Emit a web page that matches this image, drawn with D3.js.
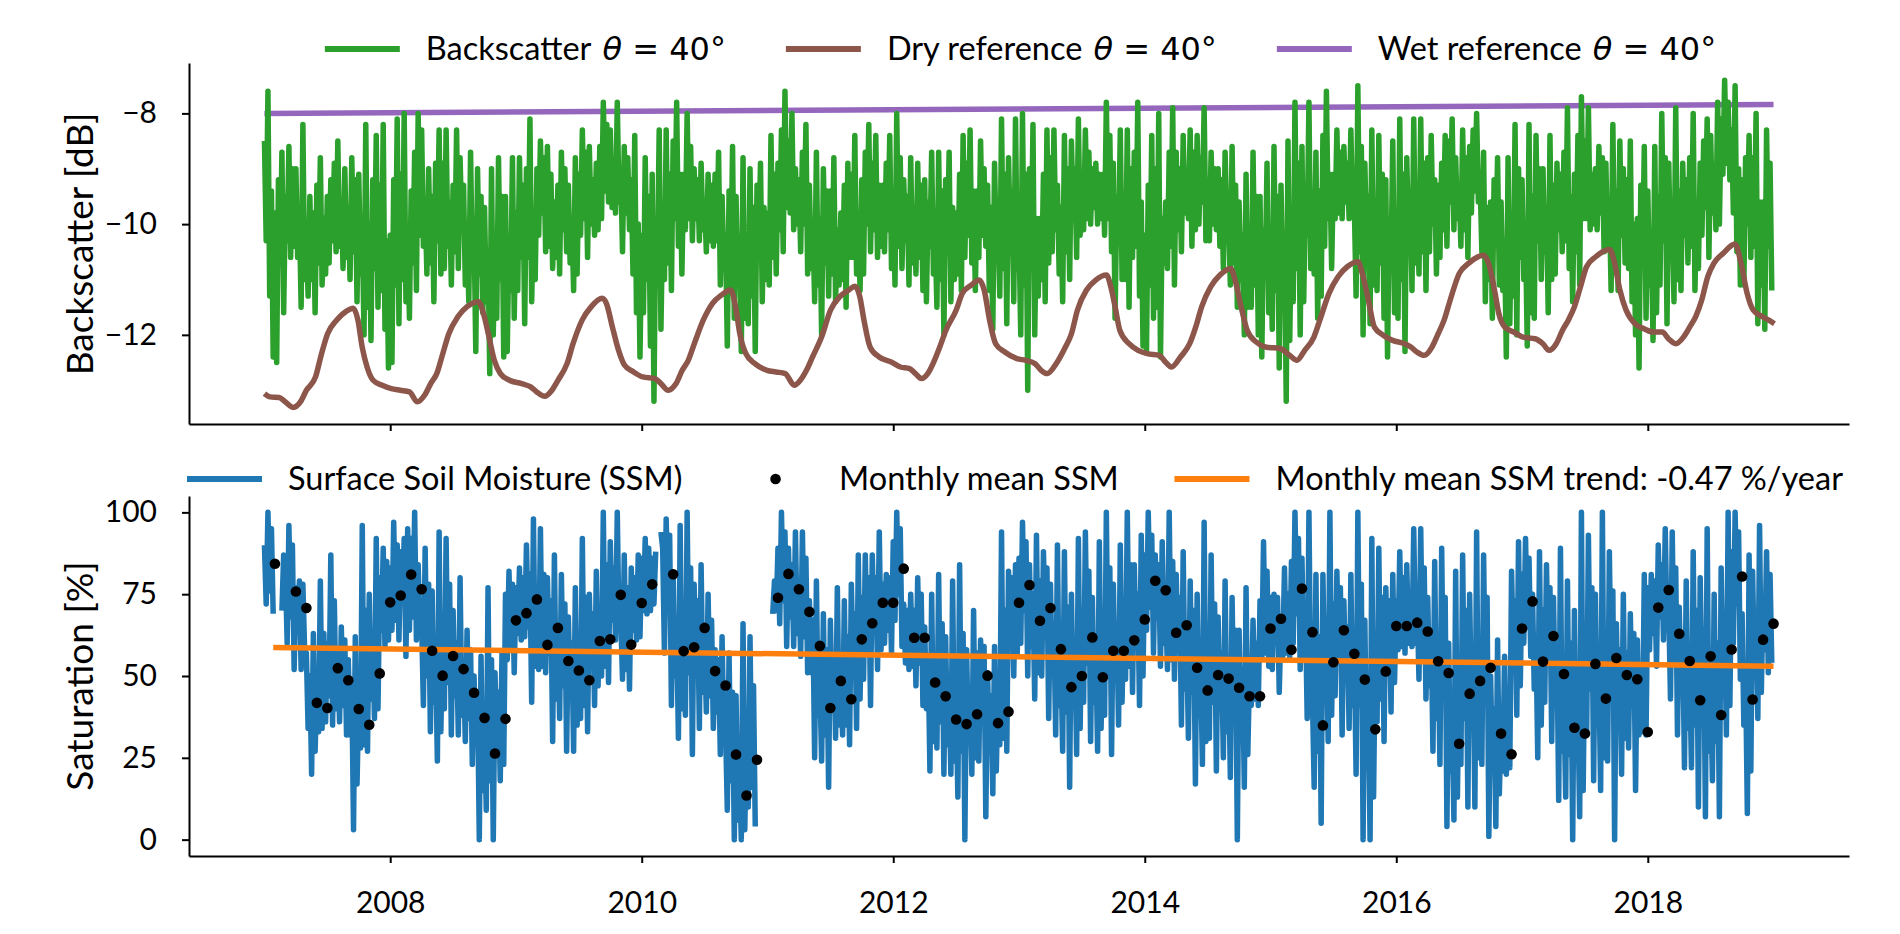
<!DOCTYPE html>
<html lang="en">
<head>
  <meta charset="UTF-8">
  <title>Backscatter and Surface Soil Moisture</title>
  <script src="https://d3js.org/d3.v7.min.js"></script>
  <style>
    body { margin: 0; background: #fff; }
    svg text { fill: #000; }
    .axis text { font-family: Lato, sans-serif; font-size: 30px; }
    .legend text { font-family: Lato, sans-serif; font-size: 32.5px; }
    .legend .math { font-family: "DejaVu Sans", sans-serif; font-size: 32px; }
    .ylabel { font-family: Lato, sans-serif; font-size: 37px; }
  </style>
</head>
<body>
  <svg id="chart" width="1900" height="934"></svg>

  <script>
    // ticks
    const yearTicks = [2008, 2010, 2012, 2014, 2016, 2018];
    const backscatterTicks = [-12, -10, -8];
    const saturationTicks = [0, 25, 50, 75, 100];

    // backscatter at 40 deg [dB], 6 samples per month, Jan 2007 - Dec 2018
    const backscatter = [
      -8.5,-10.3,-7.6,-11.3,-9.4,-12.4, -9.8,-12.5,-9.2,-10.7,-8.7,-11.6, -9.5,-10.3,-8.6,-10.6,-9.0,-10.4, -9.0,-10.6,-9.8,-11.5,-8.2,-11.0, -10.2,-11.3,-9.5,-11.0,-9.8,-11.6, -9.3,-10.7,-8.8,-11.1,-9.9,-10.9, -9.5,-10.7,-9.2,-10.3,-8.9,-10.5, -8.5,-10.4,-9.6,-10.8,-9.0,-10.6, -9.7,-11.0,-8.8,-10.5,-9.2,-11.4, -9.1,-10.9,-10.0,-12.0,-8.2,-11.5, -10.0,-12.1,-9.2,-10.8,-8.4,-11.5, -9.3,-11.2,-8.2,-11.9,-10.3,-12.6,
      -10.2,-12.5,-9.2,-11.1,-8.1,-11.8, -9.1,-11.0,-8.0,-11.4,-10.1,-11.7, -9.4,-10.7,-8.7,-11.2,-8.0,-10.2, -8.3,-10.4,-9.6,-10.9,-9.0,-10.7, -9.5,-11.4,-8.9,-10.3,-8.3,-10.9, -8.9,-10.8,-8.3,-10.4,-9.6,-11.1, -9.3,-10.5,-8.3,-10.8,-8.8,-10.1, -9.3,-11.1,-10.0,-11.4,-8.7,-10.8, -10.1,-12.3,-9.0,-10.9,-9.5,-11.6, -9.7,-11.4,-10.5,-12.7,-9.0,-12.0, -10.2,-11.7,-8.8,-11.0,-9.5,-12.4, -9.5,-12.3,-10.3,-11.2,-8.8,-11.7,
      -9.8,-11.2,-8.8,-10.6,-9.3,-11.8, -9.0,-10.6,-8.1,-11.4,-9.8,-11.0, -9.0,-10.2,-8.5,-9.8,-8.8,-10.5, -8.6,-10.4,-9.1,-10.8,-9.6,-10.6, -9.3,-10.9,-8.7,-10.1,-9.0,-10.5, -9.3,-10.7,-9.9,-11.2,-8.8,-10.9, -9.1,-10.2,-8.3,-9.9,-8.7,-10.6, -8.6,-10.0,-9.2,-10.2,-8.9,-10.1, -8.6,-9.9,-7.8,-9.4,-8.2,-9.6, -8.3,-9.7,-8.9,-9.8,-7.8,-9.6, -9.0,-10.5,-8.6,-9.8,-8.8,-10.1, -9.2,-10.9,-8.4,-11.6,-10.0,-12.4,
      -10.2,-11.6,-8.8,-11.0,-9.5,-12.2, -9.1,-13.2,-9.9,-10.7,-8.3,-11.9, -9.9,-11.0,-8.3,-10.7,-9.1,-11.2, -8.5,-9.9,-7.8,-10.4,-9.1,-10.9, -9.1,-10.1,-8.0,-9.9,-8.6,-10.3, -9.0,-9.9,-9.2,-10.3,-8.9,-10.1, -9.6,-10.5,-9.1,-10.3,-9.3,-10.4, -9.1,-10.3,-8.7,-11.1,-9.5,-10.7, -10.2,-12.2,-9.4,-11.1,-8.6,-11.7, -9.5,-11.1,-10.3,-12.3,-8.8,-11.7, -10.4,-11.8,-9.0,-11.3,-9.7,-12.3, -9.3,-10.5,-8.9,-11.4,-9.7,-11.0,
      -9.8,-11.1,-8.4,-10.6,-9.1,-10.9, -8.9,-10.1,-8.3,-10.5,-7.6,-9.7, -8.5,-9.8,-8.0,-10.1,-9.0,-10.0, -9.2,-10.5,-8.7,-10.0,-8.2,-10.9, -9.3,-10.8,-10.0,-11.4,-8.7,-11.1, -9.9,-12.0,-9.0,-10.7,-9.4,-11.3, -9.4,-10.9,-8.8,-11.4,-10.1,-11.1, -9.8,-11.0,-9.3,-11.5,-8.9,-10.6, -9.1,-10.6,-8.4,-10.9,-9.8,-11.2, -9.2,-10.9,-8.7,-10.0,-8.2,-10.5, -8.9,-10.1,-8.4,-10.6,-9.3,-10.4, -9.3,-10.5,-8.9,-10.1,-8.4,-10.8,
      -9.6,-11.1,-8.0,-10.4,-8.8,-10.8, -9.2,-10.3,-9.5,-11.1,-8.8,-10.7, -9.8,-10.9,-8.9,-10.6,-9.3,-11.2, -9.2,-11.4,-9.6,-10.4,-8.7,-10.9, -10.2,-11.5,-8.7,-11.0,-9.4,-12.0, -9.2,-10.5,-8.7,-11.4,-9.7,-11.0, -9.8,-10.9,-9.1,-11.2,-8.4,-10.6, -8.9,-10.2,-8.3,-10.7,-9.4,-11.2, -9.4,-10.6,-8.5,-10.2,-9.0,-10.4, -9.3,-11.2,-9.7,-11.9,-8.9,-10.5, -10.0,-11.3,-8.1,-10.8,-9.1,-11.8, -8.8,-10.2,-9.4,-11.4,-8.1,-10.8,
      -10.2,-12.0,-8.0,-11.1,-9.1,-13.0, -9.0,-10.7,-8.2,-12.0,-9.9,-11.3, -9.9,-11.0,-9.1,-11.4,-8.3,-10.7, -8.8,-10.5,-8.3,-10.1,-9.3,-10.9, -9.7,-11.4,-8.4,-10.5,-9.0,-11.0, -8.5,-9.8,-9.0,-10.6,-8.1,-10.2, -9.1,-10.1,-8.3,-9.9,-8.7,-10.0, -9.0,-9.7,-8.9,-10.0,-9.1,-9.9, -9.1,-10.2,-7.8,-9.9,-8.4,-10.5, -8.9,-11.7,-9.5,-10.3,-8.3,-11.0, -9.8,-11.0,-8.3,-11.5,-9.0,-10.6, -8.7,-10.4,-7.8,-11.3,-9.6,-12.2,
      -10.2,-12.3,-9.3,-11.1,-8.4,-11.7, -9.0,-11.5,-8.0,-12.4,-9.9,-10.7, -9.6,-10.8,-8.7,-10.4,-7.9,-11.1, -8.7,-10.1,-9.0,-10.5,-8.4,-9.8, -9.1,-9.9,-8.3,-10.4,-8.7,-10.1, -8.4,-10.0,-8.8,-9.6,-7.9,-10.3, -9.2,-10.3,-8.7,-10.0,-9.0,-10.1, -9.0,-10.4,-9.2,-10.8,-8.7,-10.0, -9.9,-11.1,-8.6,-10.7,-9.3,-11.5, -9.6,-11.0,-10.2,-12.0,-9.1,-11.5, -10.2,-11.5,-8.7,-11.1,-9.5,-12.0, -9.5,-12.4,-10.1,-10.9,-8.9,-11.6,
      -10.3,-11.9,-8.6,-11.2,-9.5,-12.6, -9.3,-11.0,-10.2,-13.2,-8.5,-12.1, -10.0,-11.4,-7.8,-10.8,-8.9,-12.0, -8.6,-11.4,-9.4,-10.2,-7.8,-10.8, -10.1,-10.9,-8.7,-11.7,-9.4,-11.3, -8.4,-10.4,-7.6,-9.9,-9.1,-10.8, -9.1,-9.9,-8.3,-9.8,-8.7,-9.9, -8.6,-9.6,-8.9,-9.9,-8.3,-9.8, -9.7,-11.3,-7.5,-10.5,-8.6,-12.0, -8.9,-10.3,-9.5,-11.8,-8.3,-11.1, -9.9,-11.2,-8.4,-10.7,-9.1,-11.7, -9.2,-12.4,-9.9,-10.7,-8.5,-11.6,
      -10.2,-11.7,-8.1,-11.0,-9.1,-12.3, -8.8,-10.2,-9.4,-11.2,-8.1,-10.7, -9.7,-10.9,-8.1,-10.5,-8.9,-11.2, -8.8,-10.5,-8.4,-10.0,-9.2,-10.9, -9.3,-10.6,-8.9,-10.1,-8.4,-10.4, -8.5,-9.6,-8.1,-10.1,-8.8,-9.9, -9.3,-10.4,-8.3,-10.1,-8.8,-10.6, -8.6,-9.8,-8.3,-9.4,-8.0,-9.6, -9.2,-10.5,-8.7,-11.4,-9.7,-11.0, -9.6,-11.7,-9.2,-10.4,-8.8,-11.1, -9.6,-11.2,-10.3,-12.4,-8.8,-11.8, -9.8,-11.3,-8.2,-12.0,-9.0,-10.6,
      -9.2,-11.0,-10.2,-12.2,-8.2,-11.6, -9.5,-11.7,-8.4,-10.3,-9.0,-11.0, -9.0,-10.5,-9.7,-11.6,-8.4,-11.0, -9.3,-10.9,-8.9,-10.1,-9.1,-10.5, -8.7,-10.3,-7.9,-10.8,-9.5,-11.4, -9.1,-10.5,-8.4,-11.1,-7.7,-9.9, -8.5,-9.9,-7.9,-10.1,-9.1,-10.0, -9.0,-10.1,-8.6,-9.8,-8.8,-10.5, -8.9,-10.4,-9.6,-11.2,-8.2,-10.8, -9.4,-11.2,-8.5,-10.2,-9.0,-10.7, -9.2,-10.8,-8.5,-11.4,-10.0,-12.0, -9.9,-12.6,-9.3,-10.7,-8.6,-11.7,
      -9.4,-11.1,-10.2,-12.1,-8.6,-11.6, -9.5,-11.1,-8.0,-10.3,-8.8,-11.8, -8.9,-10.6,-9.8,-11.4,-7.9,-11.0, -9.4,-11.2,-8.9,-10.2,-9.2,-10.7, -8.8,-10.4,-8.0,-11.2,-9.6,-10.8, -8.9,-10.2,-8.5,-9.7,-8.1,-10.6, -8.4,-9.8,-9.0,-10.1,-7.8,-10.0, -8.1,-9.1,-7.4,-8.9,-7.8,-9.2, -8.3,-9.8,-7.5,-10.5,-9.0,-11.1, -9.2,-11.1,-8.8,-10.0,-8.4,-10.6, -8.8,-10.4,-8.0,-11.8,-9.6,-11.1, -9.6,-11.9,-8.3,-10.4,-8.9,-11.2
    ];

    // dry reference (decimal year, dB)
    const dryYears = [
      2007.00,2007.045,2007.117,2007.165,2007.228,2007.286,2007.334,2007.406,2007.454,2007.502,2007.575,2007.647,2007.705,2007.743,2007.777,2007.816,2007.864,2007.936,
      2008.008,2008.081,2008.153,2008.216,2008.273,2008.322,2008.370,2008.418,2008.466,2008.539,2008.611,2008.702,2008.741,2008.780,2008.828,2008.876,2008.948,
      2009.045,2009.117,2009.165,2009.228,2009.286,2009.334,2009.406,2009.454,2009.527,2009.599,2009.686,2009.719,2009.767,2009.816,2009.864,2009.936,
      2010.008,2010.105,2010.153,2010.211,2010.273,2010.322,2010.370,2010.418,2010.490,2010.563,2010.635,2010.707,2010.746,2010.780,2010.828,2010.900,2010.996,
      2011.069,2011.141,2011.213,2011.261,2011.310,2011.358,2011.430,2011.502,2011.575,2011.647,2011.695,2011.734,2011.767,2011.816,2011.888,2011.984,
      2012.057,2012.129,2012.177,2012.225,2012.274,2012.322,2012.370,2012.418,2012.501,2012.549,2012.622,2012.684,2012.723,2012.766,2012.814,2012.887,2012.983,
      2013.055,2013.128,2013.176,2013.224,2013.296,2013.369,2013.417,2013.465,2013.537,2013.610,2013.696,2013.730,2013.764,2013.802,2013.875,2013.947,
      2014.019,2014.116,2014.164,2014.212,2014.284,2014.357,2014.405,2014.453,2014.525,2014.598,2014.684,2014.718,2014.766,2014.815,2014.887,2014.959,
      2015.080,2015.152,2015.210,2015.272,2015.345,2015.393,2015.465,2015.537,2015.610,2015.696,2015.730,2015.778,2015.826,2015.899,2015.971,
      2016.067,2016.116,2016.164,2016.222,2016.284,2016.333,2016.381,2016.429,2016.501,2016.574,2016.694,2016.742,2016.781,2016.815,2016.863,2016.935,
      2017.007,2017.104,2017.166,2017.215,2017.272,2017.321,2017.369,2017.417,2017.465,2017.513,2017.586,2017.697,2017.730,2017.778,2017.827,2017.899,2017.971,
      2018.043,2018.116,2018.164,2018.222,2018.284,2018.333,2018.381,2018.429,2018.477,2018.525,2018.598,2018.694,2018.742,2018.790,2018.838,2018.911,2018.959,2019.007
    ];
    const dryValues = [
      -13.06,-13.12,-13.13,-13.21,-13.31,-13.21,-13.00,-12.76,-12.34,-11.98,-11.73,-11.58,-11.52,-11.73,-12.22,-12.58,-12.82,-12.91,
      -12.97,-13.00,-13.03,-13.21,-13.09,-12.88,-12.70,-12.34,-11.98,-11.67,-11.49,-11.40,-11.61,-11.98,-12.46,-12.70,-12.82,
      -12.88,-12.94,-13.03,-13.11,-13.00,-12.82,-12.52,-12.16,-11.73,-11.49,-11.34,-11.43,-11.86,-12.28,-12.55,-12.67,
      -12.76,-12.79,-12.88,-13.00,-12.88,-12.64,-12.46,-12.16,-11.73,-11.43,-11.28,-11.19,-11.49,-11.98,-12.34,-12.52,-12.64,
      -12.67,-12.70,-12.91,-12.82,-12.64,-12.40,-12.04,-11.55,-11.31,-11.19,-11.12,-11.31,-11.73,-12.22,-12.40,-12.49,
      -12.58,-12.61,-12.70,-12.79,-12.70,-12.49,-12.22,-11.92,-11.55,-11.25,-11.10,-11.01,-11.19,-11.73,-12.16,-12.31,-12.43,
      -12.46,-12.52,-12.64,-12.70,-12.52,-12.22,-11.98,-11.55,-11.19,-11.01,-10.92,-11.13,-11.49,-11.92,-12.16,-12.28,
      -12.34,-12.37,-12.49,-12.58,-12.40,-12.16,-11.86,-11.49,-11.13,-10.92,-10.80,-11.01,-11.49,-11.92,-12.13,-12.22,
      -12.25,-12.37,-12.46,-12.28,-12.04,-11.73,-11.25,-10.95,-10.77,-10.68,-10.89,-11.37,-11.86,-12.01,-12.10,
      -12.16,-12.22,-12.31,-12.37,-12.22,-11.98,-11.73,-11.37,-10.89,-10.71,-10.56,-10.77,-11.19,-11.61,-11.86,-11.95,
      -12.04,-12.07,-12.16,-12.28,-12.16,-11.92,-11.73,-11.49,-11.13,-10.77,-10.59,-10.46,-10.65,-11.19,-11.55,-11.80,-11.89,
      -11.95,-11.95,-12.07,-12.16,-12.04,-11.86,-11.67,-11.37,-10.95,-10.71,-10.53,-10.36,-10.71,-11.25,-11.55,-11.67,-11.73,-11.80
    ];

    // wet reference (decimal year, dB)
    const wetYears = [2007.0, 2019.0];
    const wetValues = [-8.00, -7.84];

    // surface soil moisture [%], 6 samples per month, Jan 2007 - Dec 2018 (null = no data)
    const ssm = [
      90,72,100,76,95,69, null,null,null,null,70,87, 83,60,96,68,90,52, 77,64,79,52,78,58, 57,34,50,20,63,27, 48,33,79,34,63,36, 60,44,87,35,73,40, 57,36,65,41,61,32, 55,32,48,3,62,17, 43,28,96,29,70,27, 75,43,59,37,92,40, 80,64,89,59,85,61,
      83,64,97,67,90,61, 88,73,92,56,95,64, 92,68,100,61,84,64, 66,41,89,50,78,33, 76,42,58,24,94,33, 64,40,92,48,78,32, 70,44,60,32,80,38, 53,30,64,37,58,23, 50,29,45,0,56,15, 34,9,77,18,55,0, 51,29,45,18,57,23, 75,55,82,59,78,51,
      77,63,83,61,80,62, 90,65,81,42,98,53, 68,52,95,53,81,51, 80,57,73,30,87,43, 63,37,81,47,72,27, 68,44,60,27,77,35, 57,37,92,41,74,33, 75,53,69,41,82,47, 69,50,100,53,84,48, 91,67,83,61,100,64, 68,49,87,52,77,46, 83,64,80,61,87,62,
      86,70,92,69,89,70, 86,72,88,null,null,94, 89,57,98,73,93,41, 81,50,66,31,96,40, 67,38,100,51,83,26, 78,57,73,34,84,45, 60,39,75,44,67,34, 58,39,55,26,62,32, 34,9,57,18,45,0, 44,6,22,0,66,3, 32,10,62,16,47,4, null,null,null,null,null,null,
      null,null,null,69,79,70, 89,66,100,73,94,59, 89,68,84,59,94,63, 78,56,94,62,86,51, 73,51,67,25,79,38, 48,24,69,32,58,16, 67,40,56,31,77,35, 51,32,73,35,62,29, 78,53,69,34,87,43, 74,49,87,58,80,41, 87,64,80,52,94,58, 78,60,81,64,80,57,
      91,67,100,75,95,59, 72,54,70,52,75,53, 70,47,80,54,75,41, 65,40,56,21,75,30, 52,28,81,36,66,20, 62,29,45,20,79,24, 43,13,84,27,63,0, 58,30,46,20,70,25, 57,24,61,42,59,7, 51,28,44,14,59,21, 47,29,94,31,70,27, 82,64,80,50,84,57,
      86,60,97,70,91,50, 84,59,75,43,93,51, 79,50,88,63,83,37, 78,50,66,32,90,41, 55,27,88,39,71,16, 75,42,58,26,92,34, 70,42,94,54,82,30, 74,42,58,27,91,34, 66,38,100,50,83,26, 78,50,66,35,90,42, 69,49,100,53,84,45, 84,59,75,41,93,50,
      87,64,100,71,93,57, 87,68,84,53,91,60, 71,52,100,55,85,49, 81,58,74,35,88,46, 61,31,79,45,70,17, 75,38,54,23,97,30, 58,31,87,42,72,21, 68,41,57,25,79,33, 54,19,74,38,64,0, 64,36,52,16,77,26, 52,41,67,43,60,41, 73,55,91,57,82,53,
      74,52,75,60,74,45, 66,56,83,57,75,56, 85,60,100,69,92,52, 86,55,71,37,100,46, 43,16,81,27,62,5, 81,46,62,30,100,38, 72,44,82,56,77,32, 73,49,65,34,81,41, 57,20,100,41,78,0, 67,26,42,0,92,13, 59,36,89,43,74,30, 77,57,73,39,81,48,
      73,58,88,59,80,57, 84,60,74,59,95,60, 72,49,95,56,83,43, 74,47,63,27,85,37, 59,23,89,43,74,4, 60,21,37,6,82,13, 53,23,87,37,70,10, 75,41,57,10,94,25, 61,23,87,45,74,1, 50,24,40,4,61,14, 34,21,56,20,45,22, 82,57,73,38,91,47,
      81,60,92,65,86,56, 75,46,62,25,88,35, 70,42,84,54,77,30, 74,43,59,12,89,27, 42,13,79,26,60,0, 70,24,40,7,100,15, 62,32,93,46,77,18, 75,35,51,15,100,25, 64,24,88,48,76,0, 66,42,58,20,75,31, 57,28,69,41,63,15, 61,32,41,33,81,32,
      77,58,81,63,79,53, 90,68,84,61,95,64, 71,43,94,55,83,32, 71,47,63,22,79,34, 51,22,88,35,70,10, 80,48,64,7,95,27, 46,18,75,30,60,7, 83,50,66,32,100,41, 88,60,100,72,94,49, 69,35,51,8,87,21, 82,53,69,37,96,45, 74,58,88,51,81,54
    ];

    // monthly mean SSM [%], month ends Jan 2007 - Dec 2018
    const monthlySSM = [
      84.3,null,75.8,70.8,41.8,40.2,52.4,48.7,39.9,35.1,50.8,72.5,
      74.6,81.0,76.5,57.7,50.1,56.1,52.1,44.9,37.2,26.3,36.9,67.0,
      69.2,73.4,59.5,64.7,54.6,51.7,48.7,60.7,61.2,74.8,59.6,72.3,
      78.0,null,81.1,57.6,58.8,64.7,51.5,47.1,26.0,13.5,24.4,null,
      73.9,81.2,76.5,69.6,59.2,40.2,48.5,42.9,61.2,66.1,72.4,72.4,
      82.8,61.7,61.7,48.0,43.8,36.7,35.3,38.3,50.1,35.6,39.1,72.4,
      77.8,66.9,70.8,58.2,46.6,50.0,61.8,49.6,57.7,57.7,60.9,67.3,
      79.1,76.2,63.2,65.5,52.5,45.6,50.3,49.2,46.4,43.8,43.8,64.5,
      67.5,58.0,76.7,63.4,34.9,54.2,64.0,56.8,48.9,33.7,51.4,65.3,
      65.3,66.3,63.6,54.5,50.9,29.3,44.6,48.5,52.5,32.4,26.1,64.5,
      72.8,54.4,62.2,50.6,34.2,32.4,53.7,43.1,55.5,50.3,49.0,32.9,
      70.9,76.3,62.9,54.6,42.6,56.0,38.1,58.1,80.4,42.8,61.1,66.0
    ];

    // linear trend of the monthly means
    const trendYears = [2007.07, 2019.0];
    const trendValues = [58.7, 53.0];

    const colors = {
      backscatter: "#2ca02c", dry: "#8c564b", wet: "#9467bd",
      ssm: "#1f77b4", monthly: "#000000", trend: "#ff7f0e"
    };

    const svg = d3.select("#chart");
    const lineWidth = 5.5;

    const x = d3.scaleLinear().domain([2006.4, 2019.6]).range([189, 1849]);
    const yTop = d3.scaleLinear().domain([-13.61, -7.09]).range([424, 63]);
    const yBottom = d3.scaleLinear().domain([-5, 105]).range([856, 496]);

    const sampleYear = i => 2007 + i / 72;
    const monthEnd = i => 2007 + (i + 1) / 12;

    function styleAxis(g) {
      g.select(".domain").attr("stroke", "#000").attr("stroke-width", 2);
      g.selectAll(".tick line").attr("stroke", "#000").attr("stroke-width", 2);
    }

    // axes
    svg.append("g").attr("class", "axis")
      .attr("transform", "translate(0,424)")
      .call(d3.axisBottom(x).tickValues(yearTicks).tickSize(7).tickSizeOuter(0).tickFormat(""))
      .call(styleAxis);

    svg.append("g").attr("class", "axis")
      .attr("transform", "translate(189,0)")
      .call(d3.axisLeft(yTop).tickValues(backscatterTicks).tickSize(7).tickSizeOuter(0)
        .tickPadding(25).tickFormat(d3.format("d")))
      .call(styleAxis);

    svg.append("g").attr("class", "axis")
      .attr("transform", "translate(0,856)")
      .call(d3.axisBottom(x).tickValues(yearTicks).tickSize(7).tickSizeOuter(0).tickFormat(d3.format("d")))
      .call(styleAxis)
      .selectAll(".tick text").attr("y", 57).attr("dy", 0);

    svg.append("g").attr("class", "axis")
      .attr("transform", "translate(189,0)")
      .call(d3.axisLeft(yBottom).tickValues(saturationTicks).tickSize(7).tickSizeOuter(0)
        .tickPadding(25).tickFormat(d3.format("d")))
      .call(styleAxis);

    svg.append("text").attr("class", "ylabel")
      .attr("transform", "translate(93,244) rotate(-90)")
      .attr("text-anchor", "middle")
      .text("Backscatter [dB]");

    svg.append("text").attr("class", "ylabel")
      .attr("transform", "translate(93,676) rotate(-90)")
      .attr("text-anchor", "middle")
      .text("Saturation [%]");

    // top panel lines
    const topLine = d3.line().x(d => x(d[0])).y(d => yTop(d[1]));
    const zip = (a, b) => a.map((v, i) => [v, b[i]]);

    svg.append("path")
      .attr("d", topLine(zip(wetYears, wetValues)))
      .attr("fill", "none").attr("stroke", colors.wet).attr("stroke-width", lineWidth);

    svg.append("path")
      .attr("d", topLine(backscatter.map((v, i) => [sampleYear(i), v])))
      .attr("fill", "none").attr("stroke", colors.backscatter).attr("stroke-width", lineWidth)
      .attr("stroke-linejoin", "round");

    svg.append("path")
      .attr("d", topLine.curve(d3.curveMonotoneX)(zip(dryYears, dryValues)))
      .attr("fill", "none").attr("stroke", colors.dry).attr("stroke-width", lineWidth)
      .attr("stroke-linejoin", "round");

    // bottom panel
    const bottomLine = d3.line()
      .defined(d => d[1] != null)
      .x(d => x(d[0])).y(d => yBottom(d[1]));

    svg.append("path")
      .attr("d", bottomLine(ssm.map((v, i) => [sampleYear(i), v])))
      .attr("fill", "none").attr("stroke", colors.ssm).attr("stroke-width", lineWidth)
      .attr("stroke-linejoin", "round");

    svg.append("path")
      .attr("d", bottomLine(zip(trendYears, trendValues)))
      .attr("fill", "none").attr("stroke", colors.trend).attr("stroke-width", lineWidth);

    svg.append("g").selectAll("circle")
      .data(monthlySSM.map((v, i) => [monthEnd(i), v]).filter(d => d[1] != null))
      .enter().append("circle")
      .attr("cx", d => x(d[0])).attr("cy", d => yBottom(d[1]))
      .attr("r", 5.3).attr("fill", colors.monthly);

    // legends
    function drawLegend(items, y, place) {
      const g = svg.append("g").attr("class", "legend");
      const entries = items.map(it => {
        const gi = g.append("g");
        if (it.kind === "line") {
          gi.append("line").attr("x1", 0).attr("x2", 75).attr("y1", y).attr("y2", y)
            .attr("stroke", it.color).attr("stroke-width", 6);
        } else {
          gi.append("circle").attr("cx", 37.5).attr("cy", y).attr("r", 5.3).attr("fill", it.color);
        }
        const t = gi.append("text").attr("x", 101).attr("y", y + 11);
        t.append("tspan").text(it.label);
        if (it.math) {
          t.append("tspan").attr("class", "math").attr("dx", 11).attr("font-style", "italic").text("θ");
          t.append("tspan").attr("class", "math").text(" = 40°");
        }
        return { gi, w: 101 + t.node().getComputedTextLength() };
      });
      const total = d3.sum(entries, e => e.w);
      let gap, x0;
      if (place.expand) {
        gap = (place.right - place.left - total) / (entries.length - 1);
        x0 = place.left;
      } else {
        gap = place.gap;
        x0 = place.center - (total + gap * (entries.length - 1)) / 2;
      }
      entries.forEach(e => {
        e.gi.attr("transform", `translate(${x0},0)`);
        x0 += e.w + gap;
      });
    }

    drawLegend([
      { kind: "line", color: colors.backscatter, label: "Backscatter", math: true },
      { kind: "line", color: colors.dry, label: "Dry reference", math: true },
      { kind: "line", color: colors.wet, label: "Wet reference", math: true }
    ], 49, { center: 1015, gap: 71 });

    drawLegend([
      { kind: "line", color: colors.ssm, label: "Surface Soil Moisture (SSM)" },
      { kind: "dot", color: colors.monthly, label: "Monthly mean SSM" },
      { kind: "line", color: colors.trend, label: "Monthly mean SSM trend: -0.47 %/year" }
    ], 479, { expand: true, left: 187, right: 1843 });
  </script>
</body>
</html>
